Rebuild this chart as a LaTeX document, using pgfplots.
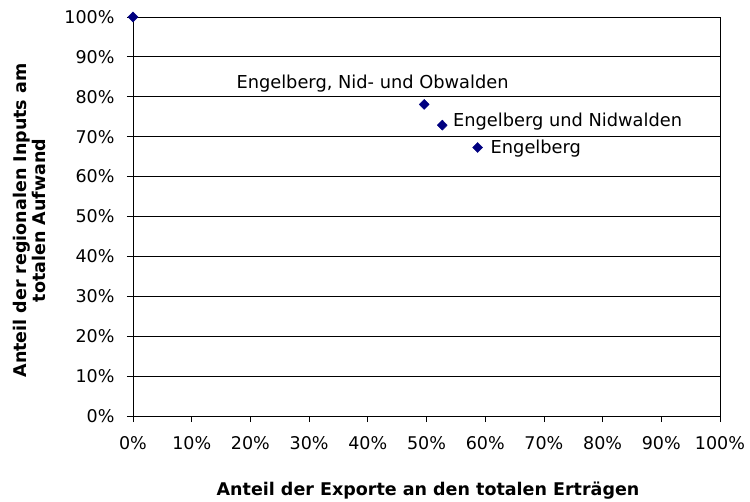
\documentclass[border=0pt]{standalone}
\usepackage{fontspec}
\setmainfont{DejaVu Sans}
\usepackage{pgfplots}
\pgfplotsset{compat=1.18}
\definecolor{navy}{RGB}{0,0,128}

\begin{document}
\begin{tikzpicture}
\path[use as bounding box] (-133pt,-85pt) rectangle (617pt,416pt);
\begin{axis}[
  scale only axis, width=587pt, height=399pt,
  xmin=0, xmax=100, ymin=0, ymax=100,
  xtick={0,10,...,100}, ytick={0,10,...,100},
  xticklabels={0\%,10\%,20\%,30\%,40\%,50\%,60\%,70\%,80\%,90\%,100\%},
  yticklabels={0\%,10\%,20\%,30\%,40\%,50\%,60\%,70\%,80\%,90\%,100\%},
  ymajorgrids,
  major grid style={black, line width=0.8pt},
  axis line style={black, line width=0.8pt},
  tick style={black, line width=0.8pt},
  tick align=outside, major tick length=6pt, tick pos=left,
  ticklabel style={font=\fontsize{17.5}{20}\selectfont},
  xticklabel style={yshift=-11pt},
  yticklabel style={xshift=-9pt},
  clip=false,
]
\addplot[only marks, mark=diamond*, mark size=5pt, color=navy, mark options={xscale=1.33}]
  coordinates {(0,100) (49.6,78.1) (52.7,72.9) (58.7,67.3)};

\node[anchor=base west, inner sep=0, font=\fontsize{17.8}{20}\selectfont] at (axis cs:17.6,82.1) {Engelberg, Nid- und Obwalden};
\node[anchor=base west, inner sep=0, font=\fontsize{17.8}{20}\selectfont] at (axis cs:54.5,72.5) {Engelberg und Nidwalden};
\node[anchor=base west, inner sep=0, font=\fontsize{17.8}{20}\selectfont] at (axis cs:60.9,65.8) {Engelberg};

\node[font=\bfseries\fontsize{17.5}{20}\selectfont] at (rel axis cs:0.5026,-0.188) {Anteil der Exporte an den totalen Erträgen};
\node[rotate=90, align=center, font=\bfseries\fontsize{17.5}{19.5}\selectfont] at (rel axis cs:-0.1763,0.49) {Anteil der regionalen Inputs am\\totalen Aufwand};
\end{axis}
\end{tikzpicture}
\end{document}
